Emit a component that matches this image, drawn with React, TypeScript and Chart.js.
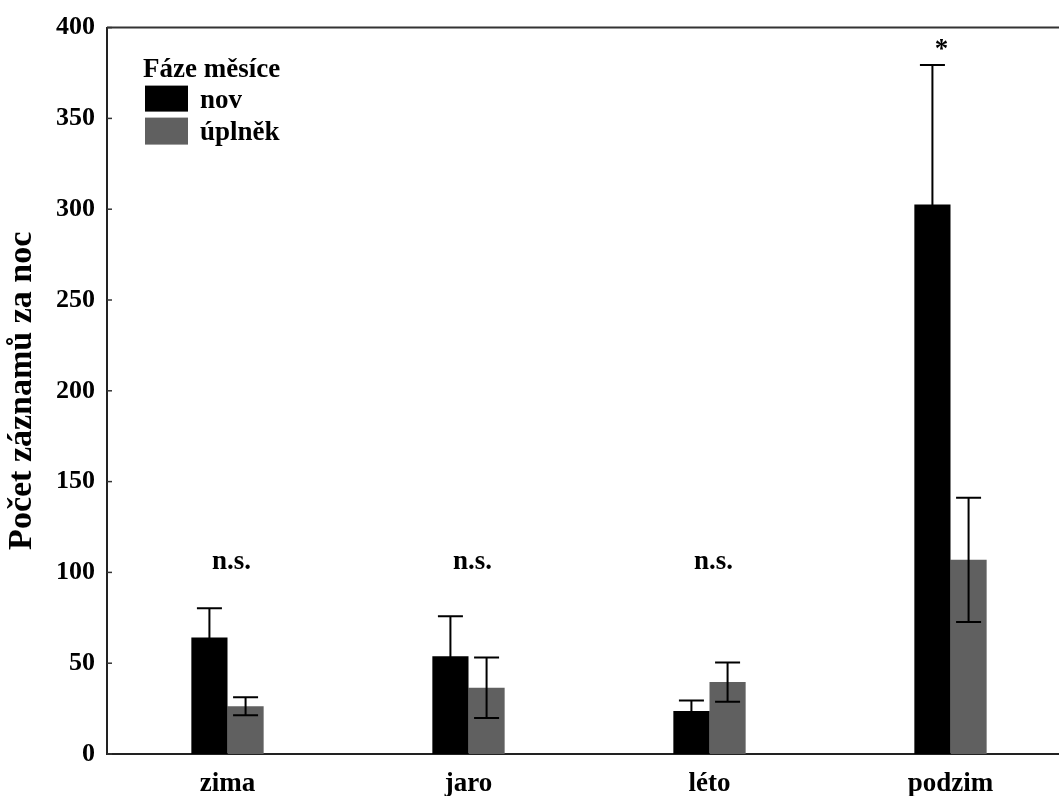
import React, { useEffect, useRef } from "react";
import { Chart, registerables } from "chart.js";

Chart.register(...registerables);

const categories = ["zima", "jaro", "léto", "podzim"];
const seriesLabels = ["nov", "úplněk"];
const novMeans = [64.2, 53.8, 23.7, 302.6];
const novErrors = [16.1, 22.1, 5.8, 76.8];
const uplnekMeans = [26.3, 36.5, 39.6, 106.9];
const uplnekErrors = [4.9, 16.7, 10.8, 34.2];
const seriesColors = ["#000000", "#606060"];
const yTicks = [0, 50, 100, 150, 200, 250, 300, 350, 400];
const annotationTexts = ["n.s.", "n.s.", "n.s.", "*"];
const annotationBaselines = [101.8, 101.8, 101.8, 384];
const legendTitle = "Fáze měsíce";
const yTitle = "Počet záznamů za noc";

const FONT = "'Liberation Serif', 'Times New Roman', serif";

const errorBarPlugin = {
  id: "errorBars",
  afterDatasetsDraw(chart: any) {
    const ctx = chart.ctx;
    const yScale = chart.scales.y;
    chart.data.datasets.forEach((ds: any, di: number) => {
      const meta = chart.getDatasetMeta(di);
      const errs = ds.errors as number[];
      meta.data.forEach((bar: any, i: number) => {
        const v = ds.data[i];
        const e = errs[i];
        const yTop = yScale.getPixelForValue(v + e);
        const yBot = yScale.getPixelForValue(v - e);
        const x = bar.x;
        ctx.save();
        ctx.strokeStyle = "#000";
        ctx.lineWidth = 2;
        ctx.beginPath();
        ctx.moveTo(x, yTop);
        ctx.lineTo(x, yBot);
        ctx.moveTo(x - 12.5, yTop);
        ctx.lineTo(x + 12.5, yTop);
        ctx.moveTo(x - 12.5, yBot);
        ctx.lineTo(x + 12.5, yBot);
        ctx.stroke();
        ctx.restore();
      });
    });
  },
};

const decorPlugin = {
  id: "decor",
  afterDraw(chart: any) {
    const ctx = chart.ctx;
    const area = chart.chartArea;
    const xScale = chart.scales.x;
    const yScale = chart.scales.y;
    ctx.save();
    // top border
    ctx.strokeStyle = "#333";
    ctx.lineWidth = 2;
    ctx.beginPath();
    ctx.moveTo(area.left, area.top);
    ctx.lineTo(area.right, area.top);
    ctx.stroke();
    // inner ticks on y axis
    ctx.lineWidth = 1.5;
    yScale.ticks.forEach((t: any) => {
      const y = yScale.getPixelForValue(t.value);
      ctx.beginPath();
      ctx.moveTo(area.left, y);
      ctx.lineTo(area.left + 5, y);
      ctx.stroke();
    });
    // annotations
    ctx.fillStyle = "#000";
    ctx.textAlign = "center";
    ctx.textBaseline = "alphabetic";
    annotationTexts.forEach((txt, i) => {
      const isStar = txt === "*";
      ctx.font = `bold ${isStar ? 27 : 27}px ${FONT}`;
      const x = xScale.getPixelForValue(i) + (isStar ? -9 : 4);
      const y = yScale.getPixelForValue(annotationBaselines[i]);
      ctx.fillText(txt, x, y);
    });
    // legend
    ctx.textAlign = "left";
    ctx.font = `bold 27px ${FONT}`;
    ctx.fillText(legendTitle, area.left + 36, area.top + 49);
    const boxes = [
      { y: area.top + 58, h: 26, ty: area.top + 80 },
      { y: area.top + 90, h: 27, ty: area.top + 112 },
    ];
    chart.data.datasets.forEach((ds: any, di: number) => {
      const b = boxes[di];
      ctx.fillStyle = ds.backgroundColor;
      ctx.fillRect(area.left + 38, b.y, 43, b.h);
      ctx.fillStyle = "#000";
      ctx.fillText(ds.label, area.left + 93, b.ty);
    });
    ctx.restore();
  },
};

export default function App() {
  const canvasRef = useRef<HTMLCanvasElement | null>(null);

  useEffect(() => {
    if (!canvasRef.current) return;
    const chart = new Chart(canvasRef.current, {
      type: "bar",
      data: {
        labels: categories,
        datasets: [
          {
            label: seriesLabels[0],
            data: novMeans,
            errors: novErrors,
            backgroundColor: seriesColors[0],
            categoryPercentage: 0.3,
            barPercentage: 1.0,
          } as any,
          {
            label: seriesLabels[1],
            data: uplnekMeans,
            errors: uplnekErrors,
            backgroundColor: seriesColors[1],
            categoryPercentage: 0.3,
            barPercentage: 1.0,
          } as any,
        ],
      },
      options: {
        responsive: false,
        animation: false,
        layout: { padding: { top: 23, right: 9, left: 0, bottom: 0 } },
        plugins: {
          legend: { display: false },
          tooltip: { enabled: false },
        },
        scales: {
          x: {
            grid: { display: false, drawTicks: false },
            border: { display: true, color: "#222", width: 2 },
            ticks: {
              color: "#000",
              font: { family: FONT, size: 27, weight: "bold" },
              padding: 14,
            },
            afterFit: (s: any) => {
              s.height = 42;
            },
          },
          y: {
            min: 0,
            max: 400,
            grid: { display: false, drawTicks: false },
            border: { display: true, color: "#222", width: 2 },
            ticks: {
              color: "#000",
              font: { family: FONT, size: 26, weight: "bold" },
              padding: 12,
            },
            afterBuildTicks: (s: any) => {
              s.ticks = yTicks.map((v) => ({ value: v }));
            },
            title: {
              display: true,
              text: yTitle,
              color: "#000",
              font: { family: FONT, size: 34, weight: "bold" },
              padding: { top: 2, bottom: 0 },
            },
            afterFit: (s: any) => {
              s.width = 107;
            },
          },
        },
      } as any,
      plugins: [errorBarPlugin, decorPlugin],
    });
    return () => chart.destroy();
  }, []);

  return (
    <div
      style={{
        position: "fixed",
        left: 0,
        top: 0,
        width: 1059,
        height: 796,
        overflow: "hidden",
        background: "#fff",
      }}
    >
      <canvas
        ref={canvasRef}
        width={1080}
        height={796}
        style={{ display: "block", width: 1080, height: 796 }}
      />
    </div>
  );
}
